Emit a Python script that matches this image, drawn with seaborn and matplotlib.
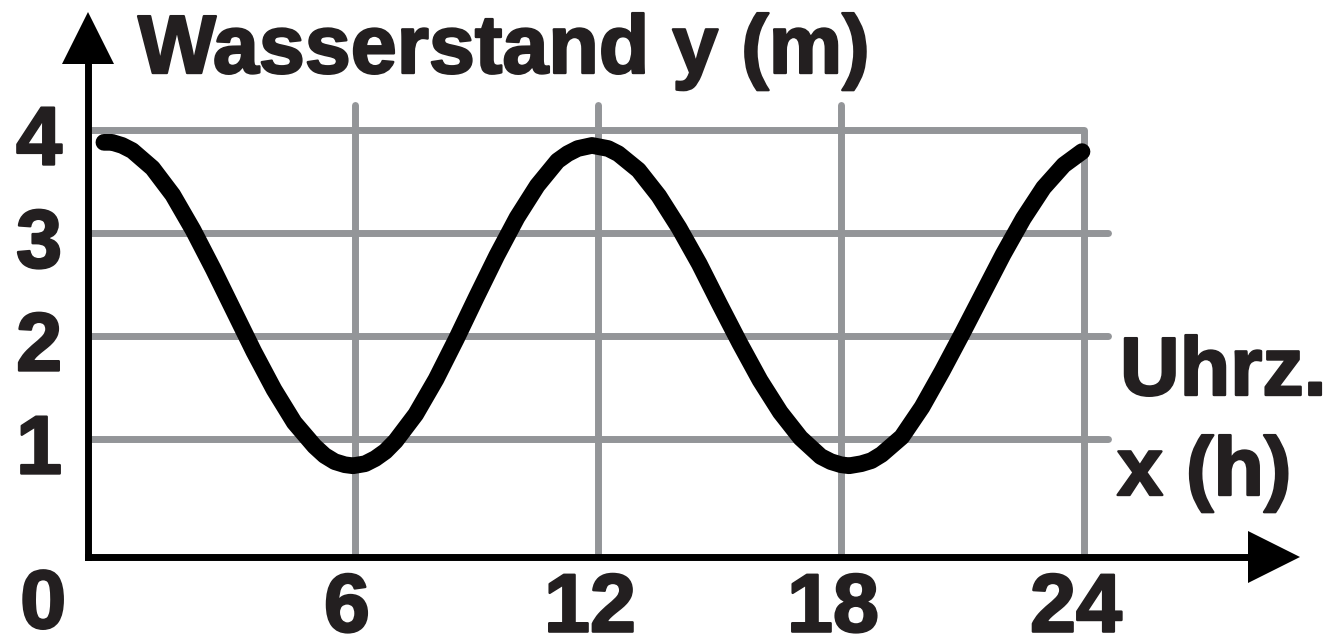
import matplotlib
matplotlib.use("Agg")
import matplotlib.pyplot as plt
import matplotlib.patheffects as pe
import seaborn as sns
import pandas as pd

# Tide curve: water level (m) over the time of day (h)
hours = [-0.2, 0.0, 0.25, 0.5, 1.0, 1.5, 2.0, 2.5, 3.0, 3.5, 4.0, 4.5, 5.0, 5.25, 5.5, 5.75, 5.95,
         6.25, 6.5, 6.75, 7.0, 7.5, 8.0, 8.5, 9.0, 9.5, 10.0, 10.5, 11.0, 11.25, 11.5, 11.85,
         12.25, 12.5, 13.0, 13.5, 14.0, 14.5, 15.0, 15.5, 16.0, 16.5, 17.0, 17.5, 17.75, 18.0, 18.2,
         18.5, 18.75, 19.0, 19.5, 20.0, 20.5, 21.0, 21.5, 22.0, 22.5, 23.0, 23.5, 23.95]
level = [3.88, 3.88, 3.85, 3.80, 3.63, 3.37, 3.03, 2.65, 2.25, 1.85, 1.48, 1.16, 0.93, 0.84, 0.78, 0.75, 0.74,
         0.76, 0.81, 0.88, 0.98, 1.24, 1.58, 1.97, 2.38, 2.78, 3.15, 3.46, 3.70, 3.77, 3.82, 3.85,
         3.82, 3.77, 3.61, 3.36, 3.05, 2.70, 2.31, 1.93, 1.57, 1.26, 1.01, 0.83, 0.78, 0.75, 0.74,
         0.76, 0.79, 0.85, 1.02, 1.31, 1.66, 2.03, 2.41, 2.79, 3.14, 3.44, 3.66, 3.79]

x_ticks = [6, 12, 18, 24]
y_ticks = [1, 2, 3, 4]
origin_label = "0"
title = "Wasserstand y (m)"
x_title = ["Uhrz.", "x (h)"]

W, H, DPI = 1339, 643, 100
INK = "#231f20"
GRID = "#939598"
# heavy lettering: bold face with a thin outline in the same colour
FONT = dict(family=["Liberation Sans", "DejaVu Sans"], fontweight="bold", fontsize=59.5, color=INK,
            path_effects=[pe.withStroke(linewidth=1.7, foreground=INK)])

sns.set_style("white")
plt.rcParams["font.family"] = ["Liberation Sans", "DejaVu Sans"]

fig = plt.figure(figsize=(W / DPI, H / DPI), dpi=DPI)
# axes box: left spine at x=88 px, bottom spine at y=557 px
ax = fig.add_axes([88 / W, (H - 557) / H, (1274 - 88) / W, (557 - 38) / H])
ax.set_xlim(-0.5926, 28.69)
ax.set_ylim(-0.1456, 4.893)
ax.set_xticks([])
ax.set_yticks([])
ax.patch.set_alpha(0)
for side in ("top", "right"):
    ax.spines[side].set_visible(False)
for side in ("left", "bottom"):
    ax.spines[side].set_linewidth(5)
    ax.spines[side].set_color("black")
    ax.spines[side].set_zorder(4)

# grid
x0, y0 = ax.get_xlim()[0], ax.get_ylim()[0]
grid_kw = dict(color=GRID, lw=5, solid_capstyle="round", solid_joinstyle="round", zorder=1)
for yv in y_ticks[:-1]:
    ax.plot([x0, 24.6], [yv, yv], **grid_kw)
for xv in x_ticks[:-1]:
    ax.plot([xv, xv], [y0, 4.24], **grid_kw)
ax.plot([x0, x_ticks[-1], x_ticks[-1]], [y_ticks[-1], y_ticks[-1], y0], **grid_kw)

# tide curve
df = pd.DataFrame({"Uhrzeit": hours, "Wasserstand": level})
sns.lineplot(data=df, x="Uhrzeit", y="Wasserstand", sort=False, color="black",
             lw=12, solid_capstyle="round", solid_joinstyle="round", ax=ax, zorder=3)
ax.set_xlabel("")
ax.set_ylabel("")

# arrow heads at the ends of both axes
ax.plot(1, 0, marker=">", ms=38, mew=0, color="black", transform=ax.transAxes,
        clip_on=False, zorder=5)
ax.plot(0, 1, marker="^", ms=38, mew=0, color="black", transform=ax.transAxes,
        clip_on=False, zorder=5)

# tick labels
for yv in y_ticks:
    ax.text(-1.8, yv - 0.335, str(yv), ha="center", va="baseline", clip_on=False, **FONT)
for xv in x_ticks:
    ax.text(xv - 0.2, -0.87, str(xv), ha="center", va="baseline", clip_on=False, **FONT)
ax.text(-1.70, -0.835, origin_label, ha="center", va="baseline", clip_on=False, **FONT)

# axis titles
fig.text(138 / W, 1 - 73 / H, title, ha="left", va="baseline", **FONT)
fig.text(1120 / W, 1 - 395 / H, x_title[0], ha="left", va="baseline", **FONT)
fig.text(1117 / W, 1 - 495 / H, x_title[1], ha="left", va="baseline", **FONT)

fig.savefig("out.png", dpi=DPI, facecolor="white")
